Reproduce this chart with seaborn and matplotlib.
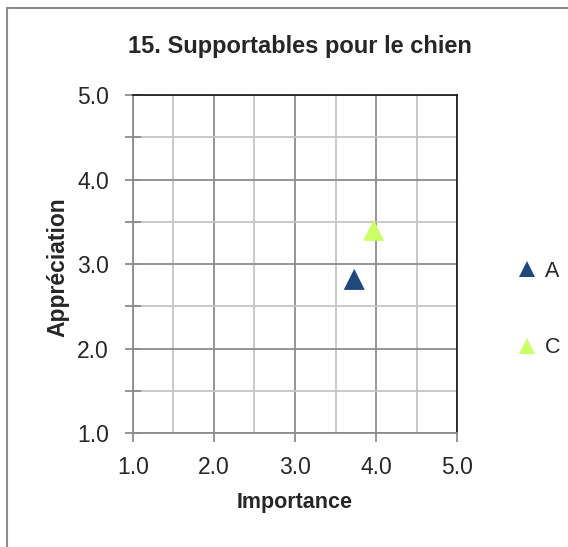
import matplotlib
matplotlib.use('Agg')
import matplotlib.pyplot as plt
from matplotlib.patches import Rectangle
from matplotlib.lines import Line2D
import pandas as pd
import seaborn as sns

# data
groups = ['A', 'C']
importance = [3.73, 3.97]
appreciation = [2.82, 3.40]
colors = ['#1F497D', '#CCFF66']
ticks = [1.0, 2.0, 3.0, 4.0, 5.0]
tick_labels = ['1.0', '2.0', '3.0', '4.0', '5.0']
minor_ticks = [1.5, 2.5, 3.5, 4.5]

df = pd.DataFrame({'Importance': importance, 'Appréciation': appreciation, 'Groupe': groups})

sns.set_style('white')
plt.rcParams['font.family'] = ['Liberation Sans', 'DejaVu Sans']

fig = plt.figure(figsize=(5.68, 5.47), dpi=100)
ax = fig.add_axes([132.7 / 568, 1 - 433.3 / 547, 324.6 / 568, 338.3 / 547])

sns.scatterplot(data=df, x='Importance', y='Appréciation', hue='Groupe',
                palette=dict(zip(groups, colors)), marker='^', s=230,
                linewidth=0, legend=False, ax=ax, zorder=3)

ax.set_xlim(1, 5)
ax.set_ylim(1, 5)
ax.set_xticks(ticks)
ax.set_xticklabels(tick_labels)
ax.set_yticks(ticks)
ax.set_yticklabels(tick_labels)
ax.set_xticks(minor_ticks, minor=True)
ax.set_yticks(minor_ticks, minor=True)

# grid like Excel
ax.grid(True, which='major', color='#8C8C8C', linewidth=1.3, zorder=0)
ax.grid(True, which='minor', color='#C4C4C4', linewidth=1.3, zorder=0)
ax.set_axisbelow(True)

for side in ['left', 'bottom']:
    ax.spines[side].set_color('#8C8C8C')
    ax.spines[side].set_linewidth(1.3)
for side in ['top', 'right']:
    ax.spines[side].set_color('#222222')
    ax.spines[side].set_linewidth(1.3)

ax.tick_params(axis='y', which='both', direction='inout', length=11, width=1.3,
               color='#8C8C8C', labelsize=16.5, pad=11.5, left=True)
ax.tick_params(axis='x', which='major', direction='out', length=6.5, width=1.3,
               color='#8C8C8C', labelsize=16.5, pad=9.5, bottom=True)
ax.tick_params(axis='x', which='minor', bottom=False)

ax.set_xlabel('Importance', fontsize=15.5, fontweight='bold', va='center')
ax.set_ylabel('Appréciation', fontsize=16.5, fontweight='bold', va='center')
ax.xaxis.set_label_coords(0.498, -0.206)
ax.yaxis.set_label_coords(-0.230, 0.492)

fig.text(300 / 568, 1 - 46 / 547, '15. Supportables pour le chien', ha='center', va='center',
         fontsize=17, fontweight='bold')

handles = [Line2D([], [], marker='^', linestyle='', markersize=11.5, color=c, markeredgewidth=0)
           for c in colors]
fig.legend(handles, groups, loc='center left', bbox_to_anchor=(507 / 568, 1 - 309.5 / 547),
           frameon=False, fontsize=15.5, labelspacing=2.6, handlelength=0.9,
           handletextpad=0.35, borderpad=0)

# chart area border
fig.patches.append(Rectangle((7 / 568, -0.1), 1.2, 1 - 8 / 547 + 0.1, transform=fig.transFigure,
                             fill=False, edgecolor='#8C8C8C', linewidth=1.5))

fig.savefig('out.png', dpi=100)
